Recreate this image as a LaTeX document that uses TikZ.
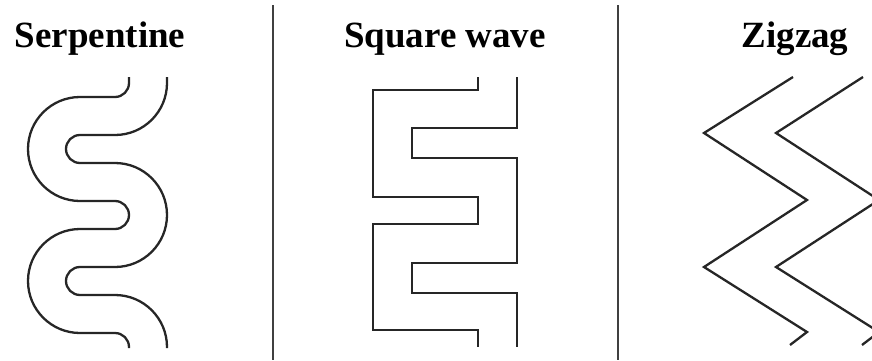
\documentclass[tikz,border=0pt]{standalone}
\usepackage{fontspec}
\setmainfont{Liberation Serif}
\begin{document}
\begin{tikzpicture}[x=1pt,y=1pt,
  wire/.style={line width=2.3pt,color=black!85,line join=miter},
  divider/.style={line width=2.2pt,color=black!75},
  title/.style={anchor=base,inner sep=0pt,font=\fontsize{37}{40}\selectfont\bfseries}]
\useasboundingbox (0,0) rectangle (872,360);
\clip (0,0) rectangle (872,360);
% titles (y measured from top: baseline at 47)
\node[title] (t1) at (100,313) {Serpentine};
\node[title] (t2) at (445,313) {Square wave};
\node[title] (t3) at (795,313) {Zigzag};
% dividers
\coordinate (d1a) at (273,355);
\coordinate (d1b) at (273,0);
\coordinate (d2a) at (618,355);
\coordinate (d2b) at (618,0);
\draw[divider] (d1a) -- (d1b);
\draw[divider] (d2a) -- (d2b);
% serpentine
\draw[wire] (129,283) -- (129,277) arc[start angle=0,end angle=-90,radius=14]
  -- (80,263) arc[start angle=90,end angle=270,radius=52]
  -- (115,159) arc[start angle=90,end angle=-90,radius=14]
  -- (80,131) arc[start angle=90,end angle=270,radius=52]
  -- (115,27) arc[start angle=90,end angle=0,radius=14] -- (129,12);
\draw[wire] (167,283) -- (167,277) arc[start angle=0,end angle=-90,radius=52]
  -- (80,225) arc[start angle=90,end angle=270,radius=14]
  -- (115,197) arc[start angle=90,end angle=-90,radius=52]
  -- (80,93) arc[start angle=90,end angle=270,radius=14]
  -- (115,65) arc[start angle=90,end angle=0,radius=52] -- (167,12);
% square wave
\draw[wire] (478,283) |- (373,270) |- (478,163) |- (373,136) |- (478,30) -- (478,13);
\draw[wire] (517,283) |- (412,232) |- (517,202) |- (412,97) |- (517,67) -- (517,13);
% zigzag
\draw[wire] (793,283) -- (704,227) -- (807,160) -- (704,93) -- (807,28) -- (790,15);
\draw[wire] (863,283) -- (776,227) -- (879,160) -- (776,93) -- (879,28) -- (862,15);
\end{tikzpicture}
\end{document}
